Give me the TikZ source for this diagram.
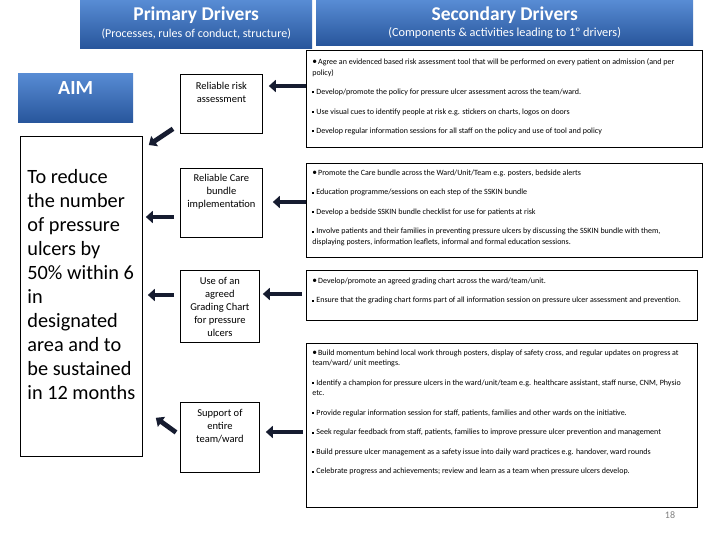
\documentclass[tikz,border=0pt]{standalone}
\usepackage{fontspec}
\setmainfont{Carlito}
\usetikzlibrary{arrows.meta}

\definecolor{hdrtop}{RGB}{88,140,212}
\definecolor{hdrbot}{RGB}{40,86,156}
\definecolor{arrowcol}{RGB}{22,28,48}

% text placed at the top of a box of fixed size: width, height, top gap, text
\newcommand{\topbox}[4]{\parbox[c][#2pt][t]{#1pt}{\vspace*{#3pt}#4}}
\newcommand{\firstpt}{{\fontsize{9.5}{0}\selectfont\textbullet}\hspace{1pt}}
\newcommand{\nextpt}{\par\vspace{9pt}\rule[1.4pt]{2pt}{2pt}\hspace{2pt}}

\tikzset{
  header/.style={anchor=north west, inner sep=0pt, top color=hdrtop, bottom color=hdrbot, text=white},
  aimtext/.style={draw, line width=0.8pt, anchor=north west, inner xsep=7pt, inner ysep=0pt},
  pbox/.style={draw, line width=0.8pt, anchor=north west, inner xsep=1pt, inner ysep=0pt,
    font=\fontsize{10.5}{13}\selectfont},
  sbox/.style={draw, line width=0.8pt, anchor=north west, inner xsep=6pt, inner ysep=0pt,
    font=\fontsize{8}{10.5}\selectfont},
  bigarrow/.style={line width=4.8pt, draw=arrowcol, -{Triangle[width=12pt,length=7pt]}},
}

\begin{document}
\begin{tikzpicture}[x=1pt,y=-1pt]
    \useasboundingbox (0,0) rectangle (720,540);

    % headers
    \node[header] (primhead) at (80,0) {\topbox{232}{48}{7}{\centering
        \fontsize{19.5}{20}\selectfont\bfseries Primary Drivers\par
        \fontsize{12}{16.5}\selectfont\mdseries (Processes, rules of conduct, structure)\par}};
    \node[header] (sechead) at (316,0) {\topbox{377}{45}{7}{\centering
        \fontsize{19.5}{20}\selectfont\bfseries Secondary Drivers\par
        \fontsize{12.3}{16}\selectfont\mdseries (Components \& activities leading to 1º drivers)\par}};

    % aim
    \node[header] (aim) at (18,73) {\topbox{115}{49}{8.5}{\centering
        \fontsize{20}{22}\selectfont\bfseries AIM\par}};
    \node[aimtext] (aimbox) at (20,136) {\topbox{108}{320}{33}{\raggedright
        \fontsize{20.3}{24}\selectfont
        To reduce\\ the number\\ of pressure\\ ulcers by\\ 50\% within 6\\ in\\ designated\\
        area and to\\ be sustained\\ in 12 months\par}};

    % primary drivers
    \node[pbox] (risk) at (180,74) {\topbox{80}{59}{8}{\centering Reliable risk\\ assessment\par}};
    \node[pbox] (care) at (180,168) {\topbox{80}{69}{6}{\centering Reliable Care\\ bundle\\ implementation\par}};
    \node[pbox] (grading) at (180,270) {\topbox{77}{72}{6.5}{\centering Use of an\\ agreed\\ Grading Chart\\ for pressure\\ ulcers\par}};
    \node[pbox] (support) at (180,402) {\topbox{77}{70}{6.5}{\centering Support of\\ entire\\ team/ward\par}};

    % secondary drivers
    \node[sbox] (sec1) at (306,50) {\topbox{384}{97}{8.5}{\raggedright
        \firstpt Agree an evidenced based risk assessment tool that will be performed on every patient on admission (and per\\ policy)
        \nextpt Develop/promote the policy for pressure ulcer assessment across the team/ward.
        \nextpt Use visual cues to identify people at risk e.g. stickers on charts, logos on doors
        \nextpt Develop regular information sessions for all staff on the policy and use of tool and policy\par}};
    \node[sbox] (sec2) at (306,163) {\topbox{384}{94}{6.5}{\raggedright
        \firstpt Promote the Care bundle across the Ward/Unit/Team e.g. posters, bedside alerts
        \nextpt Education programme/sessions on each step of the SSKIN bundle
        \nextpt Develop a bedside SSKIN bundle checklist for use for patients at risk
        \nextpt Involve patients and their families in preventing pressure ulcers by discussing the SSKIN bundle with them,\\
        displaying posters, information leaflets, informal and formal education sessions.\par}};
    \node[sbox] (sec3) at (306,270) {\topbox{379}{50}{7.5}{\raggedright
        \firstpt Develop/promote an agreed grading chart across the ward/team/unit.
        \nextpt Ensure that the grading chart forms part of all information session on pressure ulcer assessment and prevention.\par}};
    \node[sbox] (sec4) at (306,343) {\topbox{379}{164}{6.5}{\raggedright
        \firstpt Build momentum behind local work through posters, display of safety cross, and regular updates on progress at\\
        team/ward/ unit meetings.
        \nextpt Identify a champion for pressure ulcers in the ward/unit/team e.g. healthcare assistant, staff nurse, CNM, Physio\\ etc.
        \nextpt Provide regular information session for staff, patients, families and other wards on the initiative.
        \nextpt Seek regular feedback from staff, patients, families to improve pressure ulcer prevention and management
        \nextpt Build pressure ulcer management as a safety issue into daily ward practices e.g. handover, ward rounds
        \nextpt Celebrate progress and achievements; review and learn as a team when pressure ulcers develop.\par}};

    % arrows into the primary drivers
    \draw[bigarrow, shorten >=6pt] (sec1.west |- 0,86) -- (risk.east |- 0,86);
    \draw[bigarrow, shorten >=10pt] (sec2.west |- 0,202) -- (care.east |- 0,202);
    \draw[bigarrow, shorten <=4pt, shorten >=3pt] (sec3.west |- 0,294) -- (grading.east |- 0,294);
    \draw[bigarrow, shorten <=3pt, shorten >=6pt] (sec4.west |- 0,432) -- (support.east |- 0,432);

    % arrows into the aim
    \draw[bigarrow] ([shift={(-7pt,5pt)}]risk.south west) -- ([shift={(6pt,-9pt)}]aimbox.north east);
    \draw[bigarrow, shorten <=6pt, shorten >=3pt] (care.west |- 0,217) -- (aimbox.east |- 0,217);
    \draw[bigarrow, shorten <=6pt, shorten >=5pt] (grading.west |- 0,295) -- (aimbox.east |- 0,295);
    \draw[bigarrow] ([shift={(-4pt,5pt)}]support.west) -- ([shift={(13pt,39pt)}]aimbox.south east);

    \node[text=gray, font=\fontsize{10}{12}\selectfont] (pagenum) at (670,515) {18};
\end{tikzpicture}
\end{document}
